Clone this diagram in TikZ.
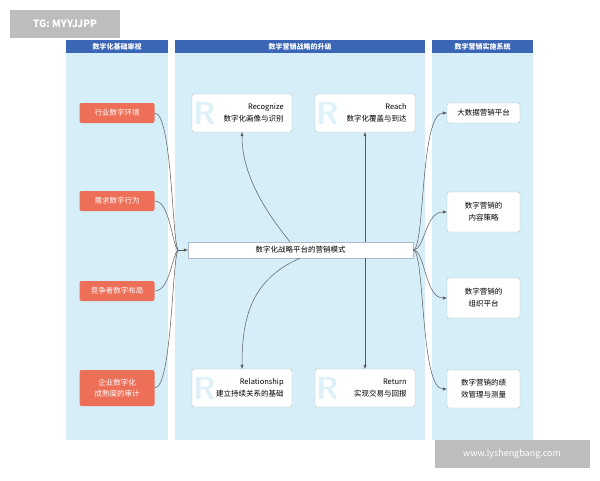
\documentclass[tikz,border=0pt]{standalone}
\usepackage{fontspec}
\setmainfont{Noto Sans CJK SC}
\usetikzlibrary{arrows.meta}
\definecolor{panel}{HTML}{D6EEF8}
\definecolor{hdr}{HTML}{3B66B5}
\definecolor{org}{HTML}{EE6F57}
\definecolor{bord}{HTML}{A9BCC8}
\definecolor{wm}{HTML}{BDBDBD}
\begin{document}
\begin{tikzpicture}[x=1pt,y=-1pt,
 hdrbox/.style={fill=hdr,draw=none,text=white,font=\fontsize{7}{7}\selectfont\bfseries,inner sep=0pt},
 orgbox/.style={fill=org,draw=none,rounded corners=2pt,text=white,font=\fontsize{7.5}{11}\selectfont,align=center,minimum width=75pt,inner sep=2pt},
 rbox/.style={fill=white,draw=bord,rounded corners=2pt,font=\fontsize{7.5}{12}\selectfont,align=center,minimum width=73pt,inner sep=2pt},
 mbox/.style={fill=white,draw=bord,rounded corners=2pt,minimum width=100pt,minimum height=38pt,inner sep=0pt},
 con/.style={draw=gray!70!black,line width=0.5pt},
 arr/.style={con,-{Triangle[length=4pt,width=3pt]}}]
\useasboundingbox (0,0) rectangle (600,480);
\fill[white] (0,0) rectangle (600,480);
% panels
\fill[panel] (66,40) rectangle (168,440);
\fill[panel] (175,40) rectangle (425,440);
\fill[panel] (432,40) rectangle (533,440);
\node[hdrbox,minimum width=102pt,minimum height=13pt] (h1) at (117,46.5) {数字化基础审视};
\node[hdrbox,minimum width=250pt,minimum height=13pt] (h2) at (300,46.5) {数字营销战略的升级};
\node[hdrbox,minimum width=101pt,minimum height=13pt] (h3) at (482.5,46.5) {数字营销实施系统};
% left
\node[orgbox,minimum height=20pt] (l1) at (117,113) {行业数字环境};
\node[orgbox,minimum height=20pt] (l2) at (117,201) {需求数字行为};
\node[orgbox,minimum height=20pt] (l3) at (117,291) {竞争者数字布局};
\node[orgbox,minimum height=36pt] (l4) at (117,388) {企业数字化\\成熟度的审计};
% center bar
\node[fill=white,draw=bord,minimum width=225pt,minimum height=16pt,inner sep=0pt,font=\fontsize{7.5}{8}\selectfont] (bar) at (300.5,250) {数字化战略平台的营销模式};
% middle boxes
\newcommand{\mb}[5]{%
\node[mbox] (#1) at (#2,#3) {};
\node[font=\fontsize{32}{32}\selectfont\bfseries\sffamily,text=panel!80,anchor=west,inner sep=1pt] at (#1.west) {R};
\node[font=\fontsize{7.5}{12}\selectfont,align=right,anchor=east] at ([xshift=-5pt]#1.east) {#4\\#5};}
\mb{rec}{242}{113}{Recognize}{数字化画像与识别}
\mb{rea}{365}{113}{Reach}{数字化覆盖与到达}
\mb{rel}{242}{388}{Relationship}{建立持续关系的基础}
\mb{ret}{365}{388}{Return}{实现交易与回报}
% right
\node[rbox,minimum height=20pt] (r1) at (483.5,113) {大数据营销平台};
\node[rbox,minimum height=40pt] (r2) at (483.5,212) {数字营销的\\内容策略};
\node[rbox,minimum height=40pt] (r3) at (483.5,298) {数字营销的\\组织平台};
\node[rbox,minimum height=38pt] (r4) at (483.5,389) {数字营销的绩\\效管理与测量};
% connectors left
\coordinate (m) at (178,250);
\draw[con] (l1.east) .. controls (172,113) and (172,240) .. (m);
\draw[con] (l2.east) .. controls (170,201) and (172,245) .. (m);
\draw[con] (l3.east) .. controls (170,291) and (172,255) .. (m);
\draw[con] (l4.east) .. controls (172,388) and (172,260) .. (m);
\draw[arr] (m) -- (bar.west);
% middle
\draw[arr] (bar.north -| 290,0) .. controls (260,205) and (242,170) .. (rec.south);
\draw[arr] (bar.north -| rea) -- (rea.south);
\draw[arr] (bar.south -| 300,0) .. controls (250,280) and (242,320) .. (rel.north);
\draw[arr] (bar.south -| ret) -- (ret.north);
% right
\draw[arr] (bar.east) .. controls (425,250) and (420,113) .. (r1.west);
\draw[arr] (bar.east) .. controls (425,250) and (425,212) .. (r2.west);
\draw[arr] (bar.east) .. controls (425,250) and (425,298) .. (r3.west);
\draw[arr] (bar.east) .. controls (425,250) and (420,389) .. (r4.west);
% watermarks
\node[fill=wm,text=white,minimum width=110pt,minimum height=28pt,font=\fontsize{10}{10}\selectfont\bfseries] (w1) at (65,24) {TG: MYYJJPP};
\node[fill=wm,text=white,minimum width=155pt,minimum height=28pt,font=\fontsize{9}{9}\selectfont] (w2) at (512,454) {www.lyshengbang.com};
\end{tikzpicture}
\end{document}
